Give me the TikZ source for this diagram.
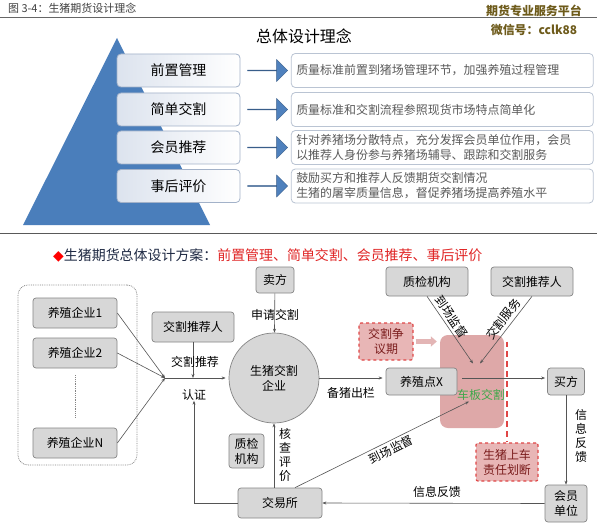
\documentclass[tikz,border=0pt]{standalone}
\usepackage{fontspec}
\setmainfont{Noto Sans CJK SC}
\newfontfamily\symfont{DejaVu Sans}
\usetikzlibrary{positioning, shapes.arrows, arrows.meta}

\definecolor{pyrblue}{HTML}{4A7EBB}
\definecolor{arrblue}{HTML}{4F81BD}
\definecolor{arredge}{HTML}{385D8A}
\definecolor{lvledge}{HTML}{A3B2C9}
\definecolor{lvlfill}{HTML}{DCE3EE}
\definecolor{descedge}{HTML}{BAC4D3}
\definecolor{desctext}{HTML}{5A5A5A}
\definecolor{boxedge}{HTML}{858585}
\definecolor{boxfill}{HTML}{D7D7D7}
\definecolor{linkgray}{HTML}{555555}
\definecolor{zonepink}{HTML}{DEA8A8}
\definecolor{dashred}{HTML}{E04646}
\definecolor{disputefill}{HTML}{E8B6B6}
\definecolor{darkred}{HTML}{7A1C1C}
\definecolor{boardgreen}{HTML}{3DA84A}
\definecolor{navytxt}{HTML}{1F2A44}
\definecolor{titlered}{HTML}{E02424}
\definecolor{wmolive}{HTML}{6E5B1B}

\begin{document}
\begin{tikzpicture}[x=1bp, y=-1bp,
  every node/.style={inner sep=0pt},
  lvlbox/.style={draw=lvledge, line width=0.8pt, rounded corners=4pt, left color=lvlfill, right color=white,
    minimum width=123bp, minimum height=33bp, font=\fontsize{14}{16}\selectfont},
  blockarr/.style={single arrow, draw=arredge, fill=arrblue, minimum height=40bp, minimum width=22bp,
    single arrow head extend=5bp, single arrow head indent=0pt},
  descbox/.style={draw=descedge, line width=0.8pt, rounded corners=4pt, fill=white, text width=292bp,
    inner xsep=5bp, align=left, minimum height=34bp, text=desctext, font=\fontsize{12}{15}\selectfont},
  graybox/.style={draw=boxedge, fill=boxfill, line width=0.7pt, rounded corners=3pt, align=center,
    font=\fontsize{12}{15}\selectfont},
  redbox/.style={draw=dashred, dashed, line width=1.2pt, fill=disputefill, rounded corners=2pt, align=center,
    text=darkred, font=\fontsize{12}{15}\selectfont},
  lbl/.style={font=\fontsize{12}{14}\selectfont, align=center},
  link/.style={draw=linkgray, line width=0.6pt, -{Stealth[length=4pt, width=3pt]}}]

\fill[white] (0,0) rectangle (597,529);
\useasboundingbox (0,0) rectangle (597,529);

\node[anchor=west, font=\fontsize{11}{13}\selectfont, text=black!75] (caption) at (8,8) {图 3-4：生猪期货设计理念};
\draw[black!60, line width=0.8pt] (0,17) -- (597,17);
\node[font=\bfseries\fontsize{12}{14}\selectfont, text=wmolive] (wm1) at (534,11) {期货专业服务平台};
\node[font=\bfseries\fontsize{12}{14}\selectfont, text=wmolive] (wm2) at (534,30) {微信号：cclk88};

\node[font=\fontsize{16}{18}\selectfont] (title) at (304,36) {总体设计理念};

\fill[pyrblue] (117,38) -- (210,225) -- (23,225) -- cycle;

\node[lvlbox] (lvl1) at (178.5,70.5) {前置管理};
\node[lvlbox] (lvl2) at (178.5,109.5) {简单交割};
\node[lvlbox] (lvl3) at (178.5,147.5) {会员推荐};
\node[lvlbox] (lvl4) at (178.5,186) {事后评价};

\node[blockarr, right=7bp of lvl1] (arr1) {};
\node[blockarr, right=7bp of lvl2] (arr2) {};
\node[blockarr, right=7bp of lvl3] (arr3) {};
\node[blockarr, right=7bp of lvl4] (arr4) {};

\node[descbox, right=3bp of arr1] (desc1) {质量标准前置到猪场管理环节，加强养殖过程管理};
\node[descbox, right=3bp of arr2] (desc2) {质量标准和交割流程参照现货市场特点简单化};
\node[descbox, right=3bp of arr3] (desc3) {针对养猪场分散特点，充分发挥会员单位作用，会员\\以推荐人身份参与养猪场辅导、跟踪和交割服务};
\node[descbox, right=3bp of arr4] (desc4) {鼓励买方和推荐人反馈期货交割情况\\生猪的屠宰质量信息，督促养猪场提高养殖水平};

\draw[black!65, line width=0.8pt] (0,233) -- (597,233);

\node[anchor=west, font=\fontsize{14}{16}\selectfont] (plan) at (53,255)
  {{\symfont\textcolor{red}{◆}}\textcolor{navytxt}{生猪期货总体设计方案：}\textcolor{titlered}{前置管理、简单交割、会员推荐、事后评价}};

\node[draw=boxedge, densely dotted, line width=0.8pt, rounded corners=10pt, minimum width=119bp, minimum height=180bp] (grp) at (77.5,375) {};
\node[graybox, minimum width=84bp, minimum height=30bp] (ent1) at (75,313) {养殖企业1};
\node[graybox, minimum width=84bp, minimum height=30bp] (ent2) at (75,353) {养殖企业2};
\node[graybox, minimum width=84bp, minimum height=30bp] (entN) at (75,443) {养殖企业N};
\draw[boxedge, densely dotted, line width=0.8pt] ([yshift=-7bp]ent2.south) -- ([yshift=11bp]entN.north);

\node[graybox, minimum width=82bp, minimum height=30bp] (recm) at (193,327) {交割推荐人};
\node[draw=boxedge, fill=boxfill, line width=0.7pt, circle, minimum size=90bp, align=center,
  font=\fontsize{12}{15}\selectfont] (firm) at (274,378) {生猪交割\\企业};
\node[graybox, minimum width=38bp, minimum height=26bp] (seller) at (275,280) {卖方};
\node[graybox, minimum width=84bp, minimum height=30bp] (exch) at (280,503) {交易所};
\node[graybox, minimum width=35bp, minimum height=34bp] (qc2) at (246.5,451) {质检\\机构};

\node[fill=zonepink, rounded corners=8pt, minimum width=64bp, minimum height=93bp] (zone) at (472,381.5) {};
\node[graybox, minimum width=71bp, minimum height=27bp] (pigX) at (421.5,381.5) {养殖点X};
\node[graybox, minimum width=37bp, minimum height=27bp] (buyer) at (566,381.5) {买方};
\node[graybox, minimum width=82bp, minimum height=29bp] (qc1) at (427,281.5) {质检机构};
\node[graybox, minimum width=82bp, minimum height=29bp] (recm2) at (532,281.5) {交割推荐人};
\node[graybox, minimum width=42bp, minimum height=37bp] (member) at (566,503.5) {会员\\单位};
\node[redbox, minimum width=54bp, minimum height=37bp] (dispute) at (386,341.5) {交割争\\议期};
\node[redbox, minimum width=62bp, minimum height=38bp] (resp) at (507,462) {生猪上车\\责任划断};

\coordinate (cert) at (165,378);
\draw[link] (ent1.east) -- (cert);
\draw[link] (ent2.east) -- (cert);
\draw[link] (entN.east) -- (cert);
\draw[link] (recm.south) -- (recm.south |- cert);
\draw[link, shorten >=3bp] (cert) -- (firm.west);
\node[lbl] (recmtxt) at (195,362) {交割推荐};
\node[lbl] (certtxt) at (194,395) {认证};
\draw[link] (exch.west) -| (certtxt.south);

\draw[link] (seller) -- (firm);
\node[lbl] (applytxt) at (275,315) {申请交割};
\draw[link, shorten >=3bp] (firm.east) -- (firm.east -| pigX.west);
\node[lbl] (outtxt) at (351,393) {备猪出栏};
\draw[link, shorten <=5bp, shorten >=2bp] (pigX.east |- firm.east) -- (buyer.west |- firm.east);

\draw[link] (exch.north -| firm.south) -- (firm.south);
\node[lbl, font=\fontsize{12}{14}\selectfont] (checktxt) at (285,455) {核\\查\\评\\价};

\draw[link] ([xshift=15bp]exch.north) -- ([shift={(-3,20)}]zone.center)
  node[lbl, pos=0.53, sloped, below=3bp] {到场监督};
\draw[link] (qc1.south) -- ([shift={(1,-18)}]zone.center)
  node[lbl, pos=0.38, sloped, above=3bp] {到场监督};
\draw[link] (recm2.south) -- ([shift={(8,-18)}]zone.center)
  node[lbl, pos=0.42, sloped, above=3bp] {交割服务};

\draw[link] (buyer.south) -- (member.north);
\node[lbl] (fbtxt1) at (581,436) {信\\息\\反\\馈};
\draw[link] (member.west) -- (exch.east);
\node[lbl] (fbtxt2) at (437,492) {信息反馈};

\draw[zonepink!85!white, line width=5pt, -{Triangle[length=6pt, width=10pt]}, shorten <=2bp, shorten >=3bp]
  (dispute.east) -- (dispute.east -| zone.west);
\draw[dashred, line width=1.6pt, dash pattern=on 6pt off 4pt] (resp.north |- dispute.east) -- (resp.north);
\node[lbl, text=boardgreen] (boardtxt) at (481,395) {车板交割};
\end{tikzpicture}
\end{document}
